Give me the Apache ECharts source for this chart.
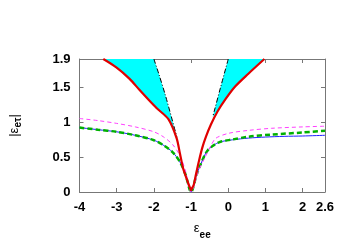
<!DOCTYPE html>
<html><head><meta charset="utf-8">
<script src="https://cdn.jsdelivr.net/npm/echarts@6/dist/echarts.min.js"></script>
<style>html,body{margin:0;padding:0;background:#fff}#c{width:350px;height:245px}</style>
</head><body><div id="c"></div>
<script>
const xTicks = [-4, -3, -2, -1, 0, 1, 2, 2.6];
const yTicks = [0, 0.5, 1, 1.5, 1.9];

const redLeftX = [-1.0, -1.03, -1.06, -1.12, -1.21, -1.30, -1.39, -1.61, -1.93, -2.13, -2.39, -2.66, -3.01, -3.36];
const redLeftY = [0.02, 0.06, 0.10, 0.19, 0.33, 0.55, 0.77, 1.04, 1.20, 1.31, 1.46, 1.62, 1.78, 1.9];
const redRightX = [-1.0, -0.97, -0.93, -0.87, -0.79, -0.70, -0.60, -0.47, -0.29, -0.07, 0.19, 0.54, 0.97];
const redRightY = [0.02, 0.06, 0.10, 0.25, 0.44, 0.63, 0.79, 0.96, 1.15, 1.33, 1.51, 1.69, 1.9];

const dashLeftX = [-2.0, -1.87, -1.69, -1.38];
const dashLeftY = [1.9, 1.69, 1.38, 0.78];
const dashRightX = [0.0, -0.20, -0.38, -0.42];
const dashRightY = [1.9, 1.51, 1.15, 1.07];

const greenX = [-4, -3.5, -3, -2.5, -2, -1.75, -1.5, -1.3, -1.15, -1.0, -0.85, -0.73, -0.62, -0.51, -0.25, 0.11, 0.54, 1.16, 2.0, 2.6];
const greenY = [0.92, 0.89, 0.86, 0.81, 0.74, 0.67, 0.57, 0.43, 0.25, 0.0, 0.25, 0.41, 0.54, 0.62, 0.71, 0.75, 0.79, 0.82, 0.85, 0.875];
const blueX = [-4, -3.5, -3, -2.5, -2, -1.75, -1.5, -1.3, -1.15, -1.0, -0.85, -0.73, -0.62, -0.51, -0.25, 0.11, 0.54, 1.0, 1.5, 2.0, 2.6];
const blueY = [0.92, 0.89, 0.86, 0.81, 0.74, 0.67, 0.57, 0.43, 0.25, 0.0, 0.25, 0.41, 0.54, 0.62, 0.71, 0.745, 0.77, 0.785, 0.795, 0.80, 0.81];
const magentaX = [-4, -3.5, -3, -2.5, -2, -1.75, -1.5, -1.3, -1.15, -1.0, -0.8, -0.64, -0.45, -0.33, 0.02, 0.54, 1.16, 2.0, 2.6];
const magentaY = [1.05, 1.02, 0.98, 0.93, 0.86, 0.79, 0.68, 0.52, 0.30, 0.0, 0.30, 0.48, 0.68, 0.77, 0.84, 0.88, 0.91, 0.93, 0.94];

const zip = (xs, ys) => xs.map((x, i) => [x, ys[i]]);

function cyanPoly(dX, dY, rX, rY) {
  const pts = zip(dX, dY);
  const yMin = dY[dY.length - 1];
  const r = zip(rX, rY).filter(p => p[1] >= yMin - 0.001);
  return pts.concat(r);
}
const cyanLeft = cyanPoly(dashLeftX, dashLeftY, redLeftX, redLeftY);
const cyanRight = cyanPoly(dashRightX, dashRightY, redRightX, redRightY);

const chart = echarts.init(document.getElementById('c'), null, {renderer: 'canvas'});
const axisCol = '#777';
const lblFont = {fontFamily: 'Liberation Sans, Arial', fontWeight: 'bold', fontSize: 13, color: '#000'};
const line = {show: true, onZero: false, lineStyle: {color: axisCol}};
const tick = {show: true, inside: true, length: 4, lineStyle: {color: axisCol}};

function polySeries(pts) {
  return {
    type: 'custom', xAxisIndex: 0, yAxisIndex: 0, z: 1,
    data: [0],
    renderItem: function (params, api) {
      return {type: 'polygon', shape: {points: pts.map(p => api.coord(p))}, style: {fill: '#00ffff', stroke: null}};
    }
  };
}
function lineSeries(data, color, width, type, z) {
  return {type: 'line', data: data, symbol: 'none', smooth: 0.3, z: z,
    lineStyle: {color: color, width: width, type: type}, silent: true, animation: false};
}

chart.setOption({
  animation: false,
  grid: {left: 74, right: 25, top: 59, bottom: 44},
  xAxis: [{
    type: 'value', min: -4, max: 2.6, interval: 1,
    axisLine: line, axisTick: tick, splitLine: {show: false},
    axisLabel: Object.assign({margin: 9, showMaxLabel: true, showMinLabel: true,
      formatter: v => xTicks.includes(+v.toFixed(1)) ? String(+v.toFixed(1)) : ''}, lblFont),
    name: '{e|ε}{s|ee}', nameLocation: 'middle', nameGap: 30,
    nameTextStyle: {rich: {
      e: {fontFamily: 'Liberation Sans, Arial', fontSize: 13, color: '#000', verticalAlign: 'top'},
      s: {fontFamily: 'Liberation Sans, Arial', fontSize: 10, fontWeight: 'bold', color: '#000', padding: [8, 0, 0, 0]}
    }}
  }, {
    type: 'value', min: -4, max: 2.6, interval: 1, position: 'top',
    axisLine: line, axisTick: tick,
    axisLabel: {show: false}, splitLine: {show: false}
  }],
  yAxis: [{
    type: 'value', min: 0, max: 1.9, interval: 0.5,
    axisLine: line, axisTick: tick, splitLine: {show: false},
    axisLabel: Object.assign({margin: 9, showMaxLabel: true,
      formatter: v => yTicks.includes(+v.toFixed(1)) ? String(+v.toFixed(1)) : ''}, lblFont),
    name: '{p||ε}{s|eτ}{p||}', nameLocation: 'middle', nameGap: 56, nameRotate: 90,
    nameTextStyle: {rich: {
      p: {fontFamily: 'Liberation Sans, Arial', fontSize: 13, color: '#000'},
      s: {fontFamily: 'Liberation Sans, Arial', fontSize: 10, fontWeight: 'bold', color: '#000', padding: [8, 0, 0, 0]}
    }}
  }, {
    type: 'value', min: 0, max: 1.9, interval: 0.5, position: 'right',
    axisLine: line, axisTick: tick,
    axisLabel: {show: false}, splitLine: {show: false}
  }],
  series: [
    polySeries(cyanLeft),
    polySeries(cyanRight),
    lineSeries(zip(dashLeftX, dashLeftY), '#000', 1, [5, 2, 1, 2], 3),
    lineSeries(zip(dashRightX, dashRightY), '#000', 1, [5, 2, 1, 2], 3),
    lineSeries(zip(blueX, blueY), '#2020ff', 1, 'solid', 4),
    lineSeries(zip(greenX, greenY), '#00b000', 2.5, [5, 3], 5),
    lineSeries(zip(magentaX, magentaY), '#ff40ff', 1, [4, 3], 6),
    lineSeries(zip(redLeftX, redLeftY), '#e00000', 2.2, 'solid', 7),
    lineSeries(zip(redRightX, redRightY), '#e00000', 2.2, 'solid', 7)
  ]
});
</script></body></html>
